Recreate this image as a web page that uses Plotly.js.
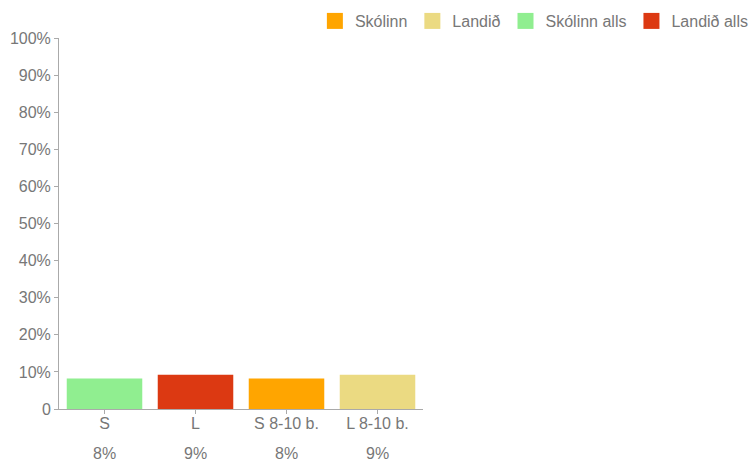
<!DOCTYPE html>
<html>
<head>
<meta charset="utf-8">
<script src="https://cdn.plot.ly/plotly-3.0.1.min.js"></script>
<style>html,body{margin:0;padding:0;background:#fff;}#chart{width:753px;height:462px;}</style>
</head>
<body>
<div id="chart"></div>
<script>
const categories = ["S", "L", "S 8-10 b.", "L 8-10 b."];
const seriesNames = ["Skólinn", "Landið", "Skólinn alls", "Landið alls"];
const seriesCategory = ["S 8-10 b.", "L 8-10 b.", "S", "L"];
const seriesValues = [8.2, 9.2, 8.2, 9.2];
const seriesColors = ["#FFA500", "#EBDA82", "#90EE90", "#DC3912"];
const percentLabels = ["8%", "9%", "8%", "9%"];
const yTickVals = [0, 10, 20, 30, 40, 50, 60, 70, 80, 90, 100];
const yTickText = ["0", "10%", "20%", "30%", "40%", "50%", "60%", "70%", "80%", "90%", "100%"];

const textColor = "#777777";
const font = {family: "Liberation Sans, Arial, sans-serif", size: 16, color: textColor};

const barTraces = seriesNames.map((name, i) => ({
  type: "bar",
  name: name,
  legendgroup: name,
  showlegend: false,
  x: [seriesCategory[i]],
  y: [seriesValues[i]],
  marker: {color: seriesColors[i], line: {width: 0}},
  opacity: 1,
  hoverinfo: "none"
}));

// legend entries (square swatches) for each series
const legendTraces = seriesNames.map((name, i) => ({
  type: "scatter",
  mode: "markers",
  name: name,
  legendgroup: name,
  showlegend: true,
  x: [null],
  y: [null],
  marker: {symbol: "square", size: 16, color: seriesColors[i], line: {width: 0}},
  hoverinfo: "none"
}));

const annotations = categories.map((c, i) => ({
  x: c, y: 0, xref: "x", yref: "y",
  text: percentLabels[i], showarrow: false,
  yanchor: "middle", yshift: -44,
  font: font
}));

const layout = {
  width: 753, height: 462,
  margin: {l: 59, r: 330, t: 38, b: 52.5, autoexpand: false},
  paper_bgcolor: "#fff", plot_bgcolor: "#fff",
  font: font,
  barmode: "overlay",
  bargap: 0.17,
  showlegend: true,
  legend: {
    orientation: "h", xref: "paper", x: 1.909, xanchor: "right",
    yref: "paper", y: 1.0458, yanchor: "middle",
    font: font, itemwidth: 30, traceorder: "normal",
    bgcolor: "rgba(0,0,0,0)"
  },
  xaxis: {
    type: "category", categoryorder: "array", categoryarray: categories,
    showgrid: false, zeroline: false,
    showline: true, linecolor: "#aaaaaa", linewidth: 1,
    ticks: "outside", ticklen: 4, tickcolor: "#aaaaaa",
    ticklabelstandoff: -4,
    tickfont: font, fixedrange: true
  },
  yaxis: {
    range: [0, 100], tickvals: yTickVals, ticktext: yTickText,
    showgrid: false, zeroline: false,
    showline: true, linecolor: "#aaaaaa", linewidth: 1,
    ticks: "outside", ticklen: 4, tickcolor: "#aaaaaa",
    tickfont: font, fixedrange: true
  },
  annotations: annotations
};

Plotly.newPlot("chart", barTraces.concat(legendTraces), layout, {displayModeBar: false, staticPlot: true});
</script>
</body>
</html>
